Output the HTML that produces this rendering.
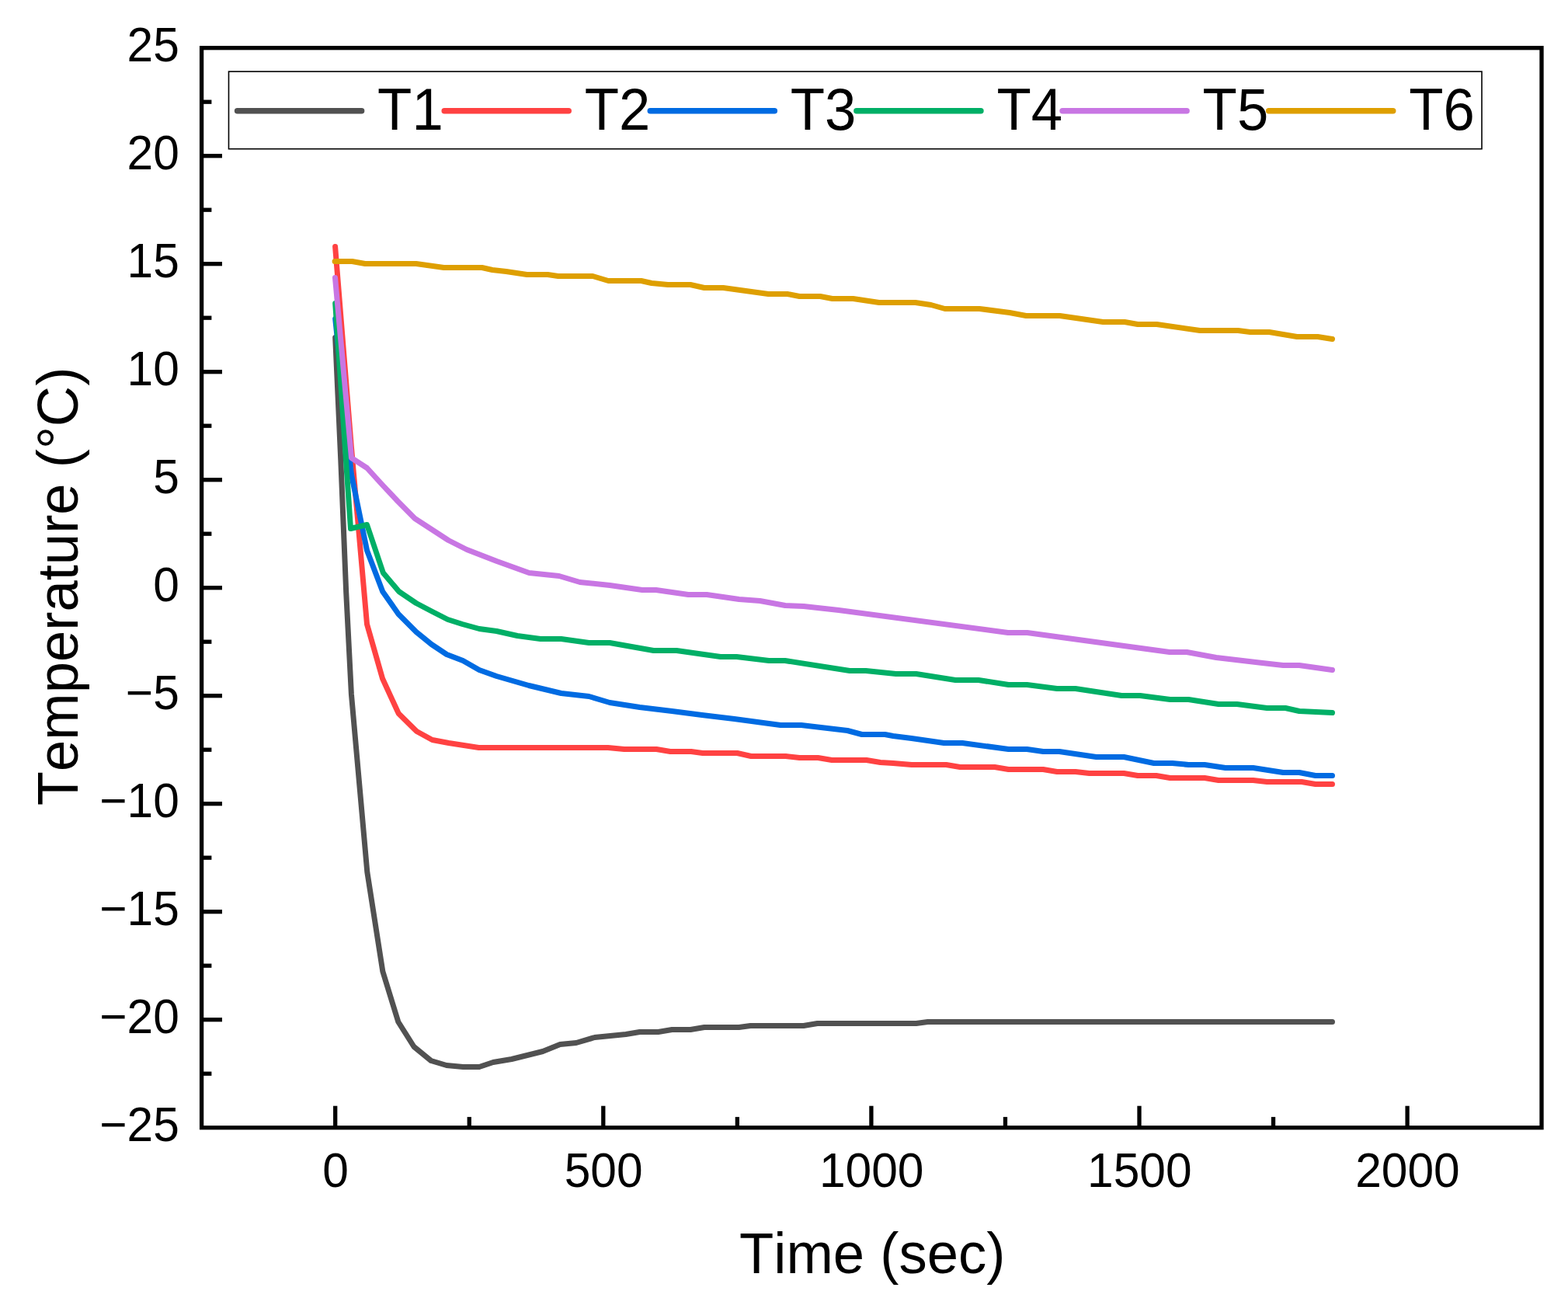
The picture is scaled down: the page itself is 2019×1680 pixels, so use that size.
<!DOCTYPE html>
<html><head><meta charset="utf-8"><title>Temperature vs Time</title>
<style>html,body{margin:0;padding:0;background:#fff;}svg{display:block;}text{font-family:"Liberation Sans",Arial,Helvetica,sans-serif;fill:#000;font-kerning:none;font-feature-settings:"kern" 0;}</style>
</head><body>
<svg width="2019" height="1680" viewBox="0 0 2019 1680">
<rect x="0" y="0" width="2019" height="1680" fill="#fff"/>
<g fill="none" stroke-width="7.0" stroke-linejoin="round" stroke-linecap="round">
<polyline stroke="#515151" points="431.7,434.5 438.8,592.5 445.7,762.5 452.4,893.5 472.8,1122.5 492.8,1250.5 512.8,1315.5 533.0,1347.5 555.0,1365.5 575.0,1371.5 596.3,1373.5 617.1,1373.5 635.0,1367.5 658.8,1363.5 698.9,1353.5 721.2,1344.5 742.0,1342.5 765.7,1335.5 805.9,1331.5 823.7,1328.5 847.5,1328.5 865.3,1325.5 889.1,1325.5 906.9,1322.5 951.5,1322.5 966.3,1320.5 1034.7,1320.5 1052.5,1317.5 1179.7,1317.5 1194.6,1315.5 1715.5,1315.5"/>
<polyline stroke="#FF4242" points="431.6,317.5 452.4,575.5 472.5,803.5 492.5,873.5 513.2,918.5 536.5,941.5 556.6,952.5 577.8,956.5 616.5,962.5 782.9,962.5 803.7,964.5 845.3,964.5 863.1,967.5 889.9,967.5 904.7,969.5 949.3,969.5 967.1,973.5 1011.7,973.5 1029.5,975.5 1053.3,975.5 1071.1,978.5 1115.7,978.5 1133.6,981.5 1150.0,982.5 1173.8,984.5 1218.4,984.5 1236.2,987.5 1280.8,987.5 1298.6,990.5 1343.2,990.5 1361.0,993.5 1384.8,993.5 1402.6,995.5 1447.2,995.5 1465.0,998.5 1488.8,998.5 1506.6,1001.5 1551.2,1001.5 1569.0,1004.5 1613.6,1004.5 1631.4,1006.5 1676.0,1006.5 1693.8,1009.5 1715.5,1009.5"/>
<polyline stroke="#006BE2" points="431.7,410.5 452.4,610.5 472.5,708.5 492.7,761.5 513.0,790.5 535.9,813.5 555.6,829.5 575.2,842.5 596.1,850.5 617.1,862.5 639.4,870.5 681.0,882.5 722.6,892.5 758.3,896.5 785.1,904.5 823.7,910.5 865.3,915.5 903.9,920.5 945.5,925.5 1005.0,933.5 1031.7,933.5 1091.1,940.5 1109.8,945.5 1139.5,945.5 1150.0,947.5 1173.8,950.5 1215.4,956.5 1239.2,956.5 1298.6,964.5 1322.4,964.5 1343.2,967.5 1364.0,967.5 1411.5,974.5 1447.2,974.5 1485.8,982.5 1509.6,982.5 1530.4,984.5 1551.2,984.5 1577.9,988.5 1613.6,988.5 1652.2,994.5 1673.0,994.5 1693.8,998.5 1715.5,998.5"/>
<polyline stroke="#00AF66" points="431.7,390.5 451.5,680.5 472.5,675.5 493.4,737.5 513.7,761.5 535.9,776.5 556.9,787.5 576.5,797.5 595.3,803.5 617.1,809.5 639.4,812.5 666.2,818.5 695.9,822.5 722.6,822.5 758.3,827.5 785.1,827.5 841.5,837.5 871.2,837.5 927.7,845.5 948.5,845.5 990.1,850.5 1010.9,850.5 1094.1,863.5 1114.9,863.5 1153.6,867.5 1179.7,867.5 1230.2,875.5 1260.0,875.5 1298.6,881.5 1322.4,881.5 1361.0,886.5 1384.8,886.5 1444.2,895.5 1468.0,895.5 1506.6,900.5 1530.4,900.5 1569.0,906.5 1592.8,906.5 1631.4,911.5 1655.2,911.5 1673.0,915.5 1715.5,917.5"/>
<polyline stroke="#C876E3" points="431.5,357.5 452.5,589.5 472.6,602.5 491.7,623.5 512.4,645.5 534.2,667.5 577.3,695.5 601.0,707.5 639.7,722.5 681.3,737.5 719.9,741.5 746.7,749.5 785.3,753.5 826.9,759.5 844.7,759.5 886.3,765.5 910.1,765.5 951.7,771.5 978.5,773.5 1011.1,779.5 1034.9,780.5 1080.0,785.5 1297.9,814.5 1322.7,814.5 1506.0,839.5 1528.2,839.5 1566.0,846.5 1625.5,853.5 1652.2,856.5 1673.0,856.5 1715.5,862.5"/>
<polyline stroke="#DE9F00" points="431.1,336.5 453.4,336.5 470.1,339.5 535.9,339.5 571.5,344.5 620.6,344.5 634.0,347.5 651.8,349.5 678.5,353.5 705.3,353.5 718.6,355.5 763.2,355.5 783.3,361.5 825.6,361.5 839.0,364.5 860.0,366.5 889.0,366.5 906.8,370.5 931.3,370.5 989.3,378.5 1013.8,378.5 1029.4,381.5 1056.1,381.5 1071.7,384.5 1098.5,384.5 1131.9,389.5 1178.7,389.5 1198.8,392.5 1216.6,397.5 1261.2,397.5 1300.0,402.5 1321.2,406.5 1364.6,406.5 1420.3,414.5 1448.2,414.5 1464.9,417.5 1489.4,417.5 1545.1,425.5 1594.2,425.5 1609.8,427.5 1634.3,427.5 1670.0,433.5 1696.7,433.5 1715.5,436.5"/>
</g>
<g stroke="#000" stroke-width="5.3" fill="none">
<line x1="259.6" y1="131.20" x2="272.4" y2="131.20"/>
<line x1="259.6" y1="200.70" x2="286.0" y2="200.70"/>
<line x1="259.6" y1="270.20" x2="272.4" y2="270.20"/>
<line x1="259.6" y1="339.70" x2="286.0" y2="339.70"/>
<line x1="259.6" y1="409.20" x2="272.4" y2="409.20"/>
<line x1="259.6" y1="478.70" x2="286.0" y2="478.70"/>
<line x1="259.6" y1="548.20" x2="272.4" y2="548.20"/>
<line x1="259.6" y1="617.70" x2="286.0" y2="617.70"/>
<line x1="259.6" y1="687.20" x2="272.4" y2="687.20"/>
<line x1="259.6" y1="756.70" x2="286.0" y2="756.70"/>
<line x1="259.6" y1="826.20" x2="272.4" y2="826.20"/>
<line x1="259.6" y1="895.70" x2="286.0" y2="895.70"/>
<line x1="259.6" y1="965.20" x2="272.4" y2="965.20"/>
<line x1="259.6" y1="1034.70" x2="286.0" y2="1034.70"/>
<line x1="259.6" y1="1104.20" x2="272.4" y2="1104.20"/>
<line x1="259.6" y1="1173.70" x2="286.0" y2="1173.70"/>
<line x1="259.6" y1="1243.20" x2="272.4" y2="1243.20"/>
<line x1="259.6" y1="1312.70" x2="286.0" y2="1312.70"/>
<line x1="259.6" y1="1382.20" x2="272.4" y2="1382.20"/>
<line x1="431.70" y1="1451.7" x2="431.70" y2="1423.7"/>
<line x1="604.25" y1="1451.7" x2="604.25" y2="1437.9"/>
<line x1="776.80" y1="1451.7" x2="776.80" y2="1423.7"/>
<line x1="949.35" y1="1451.7" x2="949.35" y2="1437.9"/>
<line x1="1121.90" y1="1451.7" x2="1121.90" y2="1423.7"/>
<line x1="1294.45" y1="1451.7" x2="1294.45" y2="1437.9"/>
<line x1="1467.00" y1="1451.7" x2="1467.00" y2="1423.7"/>
<line x1="1639.55" y1="1451.7" x2="1639.55" y2="1437.9"/>
<line x1="1812.10" y1="1451.7" x2="1812.10" y2="1423.7"/>
</g>
<rect x="259.6" y="61.7" width="1725.4" height="1390.0" fill="none" stroke="#000" stroke-width="5.3"/>
<text transform="translate(230.80,79.00) scale(1,1.035)" font-size="60.5" text-anchor="end">25</text>
<text transform="translate(230.80,218.00) scale(1,1.035)" font-size="60.5" text-anchor="end">20</text>
<text transform="translate(230.80,357.00) scale(1,1.035)" font-size="60.5" text-anchor="end">15</text>
<text transform="translate(230.80,496.00) scale(1,1.035)" font-size="60.5" text-anchor="end">10</text>
<text transform="translate(230.80,635.00) scale(1,1.035)" font-size="60.5" text-anchor="end">5</text>
<text transform="translate(230.80,774.00) scale(1,1.035)" font-size="60.5" text-anchor="end">0</text>
<text transform="translate(230.80,913.00) scale(1,1.035)" font-size="60.5" text-anchor="end">−5</text>
<text transform="translate(230.80,1052.00) scale(1,1.035)" font-size="60.5" text-anchor="end">−10</text>
<text transform="translate(230.80,1191.00) scale(1,1.035)" font-size="60.5" text-anchor="end">−15</text>
<text transform="translate(230.80,1330.00) scale(1,1.035)" font-size="60.5" text-anchor="end">−20</text>
<text transform="translate(230.80,1469.00) scale(1,1.035)" font-size="60.5" text-anchor="end">−25</text>
<text transform="translate(432.00,1527.90) scale(1,1.035)" font-size="60.5" text-anchor="middle">0</text>
<text transform="translate(777.10,1527.90) scale(1,1.035)" font-size="60.5" text-anchor="middle">500</text>
<text transform="translate(1122.20,1527.90) scale(1,1.035)" font-size="60.5" text-anchor="middle">1000</text>
<text transform="translate(1467.30,1527.90) scale(1,1.035)" font-size="60.5" text-anchor="middle">1500</text>
<text transform="translate(1812.40,1527.90) scale(1,1.035)" font-size="60.5" text-anchor="middle">2000</text>
<text transform="translate(1123.20,1638.80) scale(1,1.015)" font-size="72.5" text-anchor="middle">Time (sec)</text>
<text transform="translate(99.50,755.00) rotate(-90) scale(1,1.015)" font-size="72.5" text-anchor="middle">Temperature (°C)</text>
<rect x="294.5" y="92.1" width="1613.5" height="99.6" fill="#fff" stroke="#000" stroke-width="1.6"/>
<line x1="305.6" y1="142.7" x2="465.6" y2="142.7" stroke="#515151" stroke-width="7.5" stroke-linecap="round"/>
<text transform="translate(486.10,167.30) scale(1.000,1.040)" font-size="72.5">T1</text>
<line x1="572.2" y1="142.7" x2="732.2" y2="142.7" stroke="#FF4242" stroke-width="7.5" stroke-linecap="round"/>
<text transform="translate(752.70,167.30) scale(1.000,1.040)" font-size="72.5">T2</text>
<line x1="837.3" y1="142.7" x2="997.3" y2="142.7" stroke="#006BE2" stroke-width="7.5" stroke-linecap="round"/>
<text transform="translate(1017.80,167.30) scale(1.000,1.040)" font-size="72.5">T3</text>
<line x1="1102.9" y1="142.7" x2="1262.9" y2="142.7" stroke="#00AF66" stroke-width="7.5" stroke-linecap="round"/>
<text transform="translate(1283.40,167.30) scale(1.000,1.040)" font-size="72.5">T4</text>
<line x1="1368.1" y1="142.7" x2="1528.1" y2="142.7" stroke="#C876E3" stroke-width="7.5" stroke-linecap="round"/>
<text transform="translate(1548.60,167.30) scale(1.000,1.040)" font-size="72.5">T5</text>
<line x1="1633.7" y1="142.7" x2="1793.7" y2="142.7" stroke="#DE9F00" stroke-width="7.5" stroke-linecap="round"/>
<text transform="translate(1814.20,167.30) scale(1.000,1.040)" font-size="72.5">T6</text>
</svg>
</body></html>
